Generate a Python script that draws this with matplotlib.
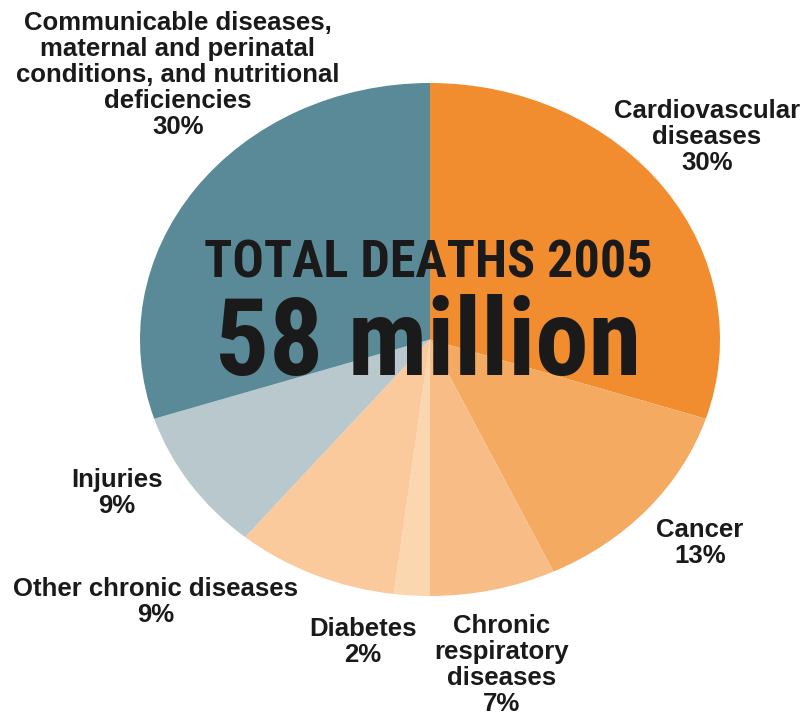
import matplotlib
matplotlib.use("Agg")
import matplotlib.pyplot as plt

# slices in clockwise order starting at 12 o'clock
causes = ["Cardiovascular\ndiseases", "Cancer", "Chronic\nrespiratory\ndiseases",
          "Diabetes", "Other chronic diseases", "Injuries",
          "Communicable diseases,\nmaternal and perinatal\nconditions, and nutritional\ndeficiencies"]
shares = [30, 13, 7, 2, 9, 9, 30]
colors = ["#F18D2E", "#F5AA62", "#F8BD86", "#FBD7B0", "#FAC99C", "#B9C8CD", "#5A8A97"]

# label centres in pixels (x, y from top)
label_pos = [(707, 137), (700, 543), (502, 665), (363, 642), (156, 602), (117, 493), (178, 75)]

W, H = 804, 718
fig = plt.figure(figsize=(W / 100, H / 100), dpi=100)
ax = fig.add_axes([140 / W, (H - 596) / H, 580 / W, 513 / H])

ax.pie(shares, colors=colors, startangle=90, counterclock=False,
       wedgeprops=dict(linewidth=0))
# the original pie is stretched a bit horizontally
ax.set_aspect("auto")
ax.set_xlim(-1, 1)
ax.set_ylim(-1, 1)
ax.axis("off")

label_font = ["Liberation Sans", "DejaVu Sans"]
for name, val, (px, py) in zip(causes, shares, label_pos):
    fig.text(px / W, 1 - py / H, f"{name}\n{val}%", ha="center", va="center",
             multialignment="center", fontsize=18.5, fontweight="bold",
             family=label_font, color="#1a1a1a", linespacing=1.1)

big_font = ["Roboto Condensed", "DejaVu Sans"]
fig.text(428 / W, 1 - 278 / H, "TOTAL DEATHS 2005", ha="center", va="baseline",
         fontsize=37.5, fontweight="bold", family=big_font, color="#1a1a1a")
fig.text(428 / W, 1 - 375 / H, "58 million", ha="center", va="baseline",
         fontsize=77, fontweight="bold", family=big_font, color="#1a1a1a")

fig.savefig("out.png", dpi=100)
